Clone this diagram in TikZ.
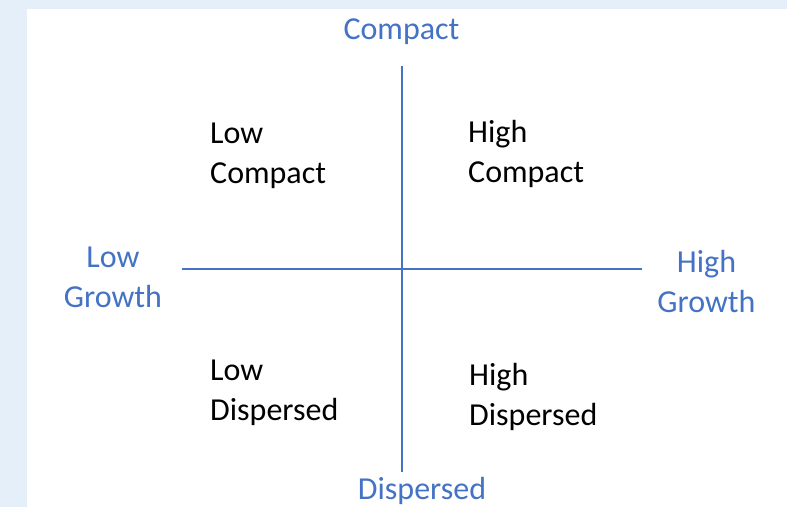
\documentclass[tikz,border=0pt]{standalone}
\usepackage{fontspec}
\setmainfont{Carlito}
\usepackage{tikz}
\definecolor{axisblue}{HTML}{4472C4}
\definecolor{paneblue}{HTML}{E5EFF9}
\tikzset{
  axislabel/.style={text=axisblue, font=\fontsize{32}{40}\selectfont, align=center, inner sep=0pt},
  quadlabel/.style={text=black, font=\fontsize{32}{40}\selectfont, align=left, inner sep=0pt, anchor=base west},
  axisline/.style={draw=axisblue, line width=1.5pt}
}

\begin{document}
\begin{tikzpicture}[x=1pt, y=-1pt]
      \useasboundingbox (0,0) rectangle (787,507);
      \fill[color=paneblue] (0,0) rectangle (787,507);
      \fill[color=white] (27,9) rectangle (787,507);
      \coordinate (top) at (402,66);
      \coordinate (bottom) at (402,472);
      \coordinate (left) at (182,269);
      \coordinate (right) at (642,269);
      \draw[axisline] (top) -- (bottom);
      \draw[axisline] (left) -- (right);
      % multi-line nodes: base is the last line
      \node[axislabel, anchor=base] (compact) at (401.5,39) {Compact};
      \node[axislabel, anchor=base] (dispersed) at (422,499) {Dispersed};
      \node[axislabel, anchor=base] (lowgrowth) at (113,307) {Low\\Growth};
      \node[axislabel, anchor=base] (highgrowth) at (706.5,312) {High\\Growth};
      \node[quadlabel] (lowcompact) at (210,183) {Low\\Compact};
      \node[quadlabel] (highcompact) at (468,182) {High\\Compact};
      \node[quadlabel] (lowdispersed) at (210,420) {Low\\Dispersed};
      \node[quadlabel] (highdispersed) at (469,425) {High\\Dispersed};
    \end{tikzpicture}
\end{document}
